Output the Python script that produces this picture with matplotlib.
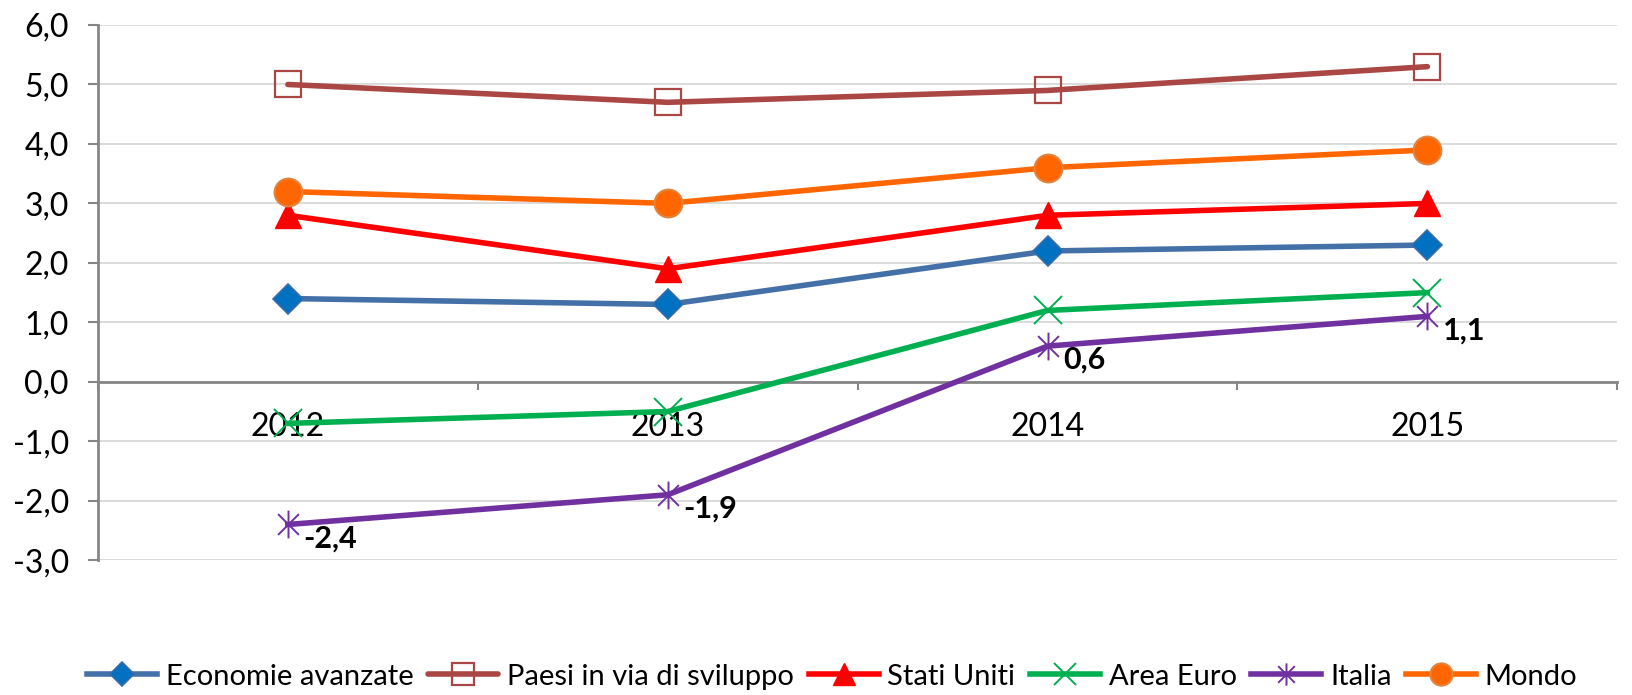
import matplotlib
matplotlib.use("Agg")
import matplotlib.pyplot as plt
from matplotlib.path import Path
from matplotlib.ticker import FixedLocator, FuncFormatter

# ---------- DATA ----------
anni = ["2012", "2013", "2014", "2015"]
economie_avanzate = [1.4, 1.3, 2.2, 2.3]
paesi_sviluppo = [5.0, 4.7, 4.9, 5.3]
stati_uniti = [2.8, 1.9, 2.8, 3.0]
area_euro = [-0.7, -0.5, 1.2, 1.5]
italia = [-2.4, -1.9, 0.6, 1.1]
mondo = [3.2, 3.0, 3.6, 3.9]
# --------------------------

plt.rcParams["font.family"] = ["Lato", "DejaVu Sans"]

# asterisk marker like Excel's "star"
asterisk = Path(
    [(0, -1), (0, 1), (-0.75, -0.75), (0.75, 0.75), (-0.75, 0.75), (0.75, -0.75)],
    [Path.MOVETO, Path.LINETO, Path.MOVETO, Path.LINETO, Path.MOVETO, Path.LINETO],
)

fig = plt.figure(figsize=(16.32, 6.95), dpi=100)
ax = fig.add_axes([0.060, 0.194, 0.931, 0.770])

x = range(len(anni))
lw = 4.0

ax.plot(x, economie_avanzate, color="#4470A8", lw=lw, marker="D", ms=15,
        mfc="#0070C0", mec="#3A6CA8", mew=1.2, label="Economie avanzate", zorder=3)
ax.plot(x, paesi_sviluppo, color="#AA4643", lw=lw, marker="s", ms=19,
        mfc="none", mec="#AA4643", mew=1.6, label="Paesi in via di sviluppo",
        solid_capstyle="round", zorder=3)
ax.plot(x, stati_uniti, color="#FF0000", lw=lw, marker="^", ms=19,
        mfc="#FF0000", mec="#FF0000", label="Stati Uniti", zorder=3)
ax.plot(x, area_euro, color="#00B050", lw=lw, marker="x", ms=20,
        mec="#00B050", mew=1.4, label="Area Euro", zorder=3)
ax.plot(x, italia, color="#7030A0", lw=lw, marker=asterisk, ms=20,
        mec="#7030A0", mew=1.4, label="Italia", zorder=3)
ax.plot(x, mondo, color="#FF6600", lw=lw, marker="o", ms=20,
        mfc="#FF6600", mec="#E0843E", mew=1.5, label="Mondo", zorder=3)

# data labels for Italia
for xi, v in zip(x, italia):
    ax.annotate(f"{v:.1f}".replace(".", ","), (xi, v), xytext=(11, -10),
                textcoords="offset points", ha="left", va="center",
                fontsize=22, fontweight="bold", color="black", zorder=4)

ax.set_xlim(-0.5, 3.5)
ax.set_ylim(-3, 6)
ax.set_yticks(range(-3, 7))
ax.yaxis.set_major_formatter(FuncFormatter(lambda v, p: f"{v:.1f}".replace(".", ",")))
ax.yaxis.grid(True, color="#D9D9D9", lw=1.3)
ax.set_axisbelow(True)

ax.set_xticks(list(x))
ax.set_xticklabels(anni)
ax.xaxis.set_minor_locator(FixedLocator([-0.5, 0.5, 1.5, 2.5, 3.5]))
ax.tick_params(axis="x", which="major", length=0, pad=22, labelsize=23)
ax.tick_params(axis="x", which="minor", length=6, width=1.5, color="#868686",
               direction="out")
ax.tick_params(axis="y", length=7, width=1.5, color="#868686", pad=14, labelsize=23)

ax.spines["bottom"].set_position(("data", 0))
for s in ["top", "right"]:
    ax.spines[s].set_visible(False)
for s in ["left", "bottom"]:
    ax.spines[s].set_color("#868686")
    ax.spines[s].set_linewidth(2)

leg = fig.legend(loc="lower center", bbox_to_anchor=(0.51, -0.03), ncol=6,
                 frameon=False, fontsize=21, handlelength=2.4, handletextpad=0.3,
                 columnspacing=0.5, markerscale=0.8)

fig.savefig("out.png", dpi=100, facecolor="white")
